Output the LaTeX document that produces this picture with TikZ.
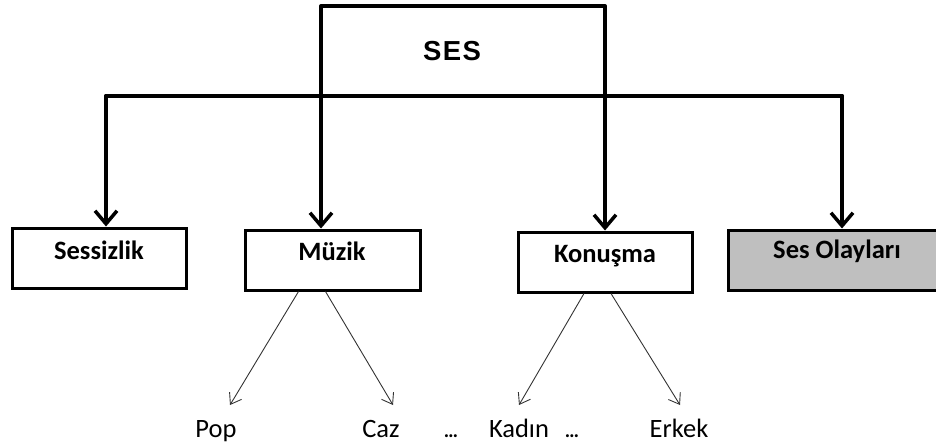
\documentclass[tikz,border=0pt]{standalone}
\usepackage{fontspec}
\setmainfont{Carlito}
\newfontfamily\arialbold{Liberation Sans}[BoldFont={* Bold},LetterSpace=5]
\usetikzlibrary{arrows.meta}
\begin{document}
\begin{tikzpicture}[x=1pt,y=-1pt,
  catbox/.style={draw=black,line width=3pt,minimum width=174pt,minimum height=60pt,inner sep=0pt},
  catlabel/.style={anchor=base,inner sep=0pt,font=\fontsize{26.5}{28}\selectfont\bfseries},
  trunk/.style={line width=4pt,line cap=round,line join=round},
  branch/.style={trunk,-{Straight Barb[length=13pt,width=22pt,line width=3.5pt]}},
  twig/.style={line width=0.9pt,draw=black!80,-{Straight Barb[length=10pt,width=14pt,line width=0.9pt]}},
  leaf/.style={anchor=base,inner sep=0pt,font=\fontsize{26.5}{28}\selectfont},
  gap/.style={anchor=base,inner sep=0pt,font=\fontsize{20}{22}\selectfont\bfseries}]
\useasboundingbox (0,0) rectangle (936,447);
% top frame and distribution bar
\node[anchor=base,inner sep=0pt,font=\arialbold\fontsize{27.5}{30}\selectfont\bfseries] (ses) at (452,60) {SES};
\coordinate (tl) at (321,96);
\coordinate (tr) at (605,96);
\coordinate (bl) at (106,96);
\coordinate (br) at (842,96);
\draw[trunk] (tl) -- (321,6) -- (605,6) -- (tr);
\draw[trunk] (bl) -- (br);
% category boxes
\node[catbox] (ses1) at (99,258) {};
\node[catlabel] at (99,259) {Sessizlik};
\node[catbox,minimum width=175pt] (muz) at (332.5,260) {};
\node[catlabel] at (332,260) {Müzik};
\node[catbox] (kon) at (605,262) {};
\node[catlabel] at (605,262) {Konuşma};
% the last box runs on past the right edge of the page
\node[catbox,fill=black!25,minimum width=222pt] (olay) at (839,260) {};
\node[catlabel] at (837,258) {Ses Olayları};
% branches down from the bar
\draw[branch] (bl) -- (bl |- ses1.north);
\draw[branch] (tl) -- (tl |- muz.north);
\draw[branch] (tr) -- (tr |- kon.north);
\draw[branch] (br) -- (br |- olay.north);
% sub-categories
\node[leaf] (pop) at (216,437) {Pop};
\node[leaf] (caz) at (381,437) {Caz};
\node[gap] (dots1) at (451,437) {…};
\node[leaf] (kad) at (519,437) {Kadın};
\node[gap] (dots2) at (572,437) {…};
\node[leaf] (erk) at (679,437) {Erkek};
\coordinate (pt1) at (230,405);
\coordinate (pt2) at (393,405);
\coordinate (pt3) at (519,405);
\coordinate (pt4) at (680,405);
\draw[twig] ([xshift=-34pt]muz.south) -- (pt1);
\draw[twig] ([xshift=-7pt]muz.south) -- (pt2);
\draw[twig] ([xshift=-21pt]kon.south) -- (pt3);
\draw[twig] ([xshift=6pt]kon.south) -- (pt4);
\end{tikzpicture}
\end{document}
